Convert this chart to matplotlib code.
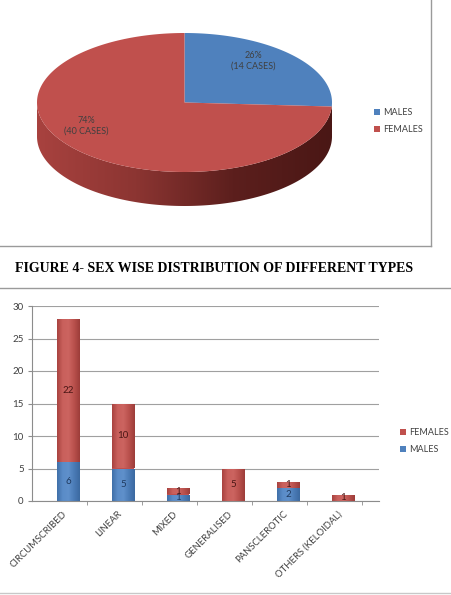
import numpy as np
import matplotlib.pyplot as plt
from matplotlib.patches import Polygon, Patch
from matplotlib.colors import LinearSegmentedColormap

# pie data
pie_labels = ['MALES', 'FEMALES']
pie_cases = [14, 40]

# bar data
types = ['CIRCUMSCRIBED', 'LINEAR', 'MIXED', 'GENERALISED', 'PANSCLEROTIC', 'OTHERS (KELOIDAL)']
males = [6, 5, 1, 0, 2, 0]
females = [22, 10, 1, 5, 1, 1]

blue = '#4F81BD'
red = '#C0504D'
txt = '#404040'
font = 'Lato'

fig = plt.figure(figsize=(4.52, 5.95), dpi=100)
bg = fig.add_axes([0, 0, 1, 1])
bg.set_xlim(0, 452)
bg.set_ylim(595, 0)
bg.axis('off')

# frame lines of the page
bg.plot([431, 431], [0, 246], color='#9a9a9a', lw=1)
bg.plot([0, 431], [246, 246], color='#9a9a9a', lw=1)
bg.plot([0, 452], [288, 288], color='#9a9a9a', lw=1)
bg.plot([0, 452], [593, 593], color='#c8c8c8', lw=1)
bg.text(15, 268, 'FIGURE 4- SEX WISE DISTRIBUTION OF DIFFERENT TYPES',
        fontsize=10.0, fontweight='bold', family='Liberation Serif',
        va='center', ha='left', color='black')

# ---- 3D-looking pie ----
cx, cy, a, b, depth = 184.5, 102.5, 147.5, 69.5, 34
total = sum(pie_cases)
start = 90.0
angles = [start]
for v in pie_cases:
    angles.append(angles[-1] - 360.0 * v / total)

def pt(th):
    r = np.deg2rad(th)
    return cx + a * np.cos(r), cy - b * np.sin(r)

# side wall (front half), gradient dark to the right
th = np.linspace(180, 360, 200)
top_edge = [pt(t) for t in th]
bot_edge = [(x, y + depth) for x, y in top_edge[::-1]]
side = Polygon(top_edge + bot_edge, closed=True, facecolor='none', edgecolor='none')
bg.add_patch(side)
side_cmap = LinearSegmentedColormap.from_list('side', ['#a8423f', '#8c3532', '#5c1f1d', '#4a1715'])
grad = np.linspace(0, 1, 256).reshape(1, -1)
im = bg.imshow(grad, cmap=side_cmap, extent=[cx - a, cx + a, cy + b + depth, cy - b],
               aspect='auto', zorder=1)
im.set_clip_path(side)
bg.set_xlim(0, 452)
bg.set_ylim(595, 0)

cols = [blue, red]
for i in range(len(pie_cases)):
    ts = np.linspace(angles[i], angles[i + 1], 200)
    verts = [(cx, cy)] + [pt(t) for t in ts]
    bg.add_patch(Polygon(verts, closed=True, facecolor=cols[i], edgecolor='none', zorder=2))

lbl_pos = [(253, 61), (86, 126)]
for i, v in enumerate(pie_cases):
    pct = round(100.0 * v / total)
    bg.text(lbl_pos[i][0], lbl_pos[i][1], '%d%%\n(%d CASES)' % (pct, v), ha='center', va='center',
            fontsize=6.5, family=font, color=txt, zorder=3, linespacing=1.2)

pie_handles = [Patch(facecolor=c, edgecolor='none') for c in cols]
bg.legend(pie_handles, pie_labels, loc='center left', bbox_to_anchor=(366 / 452, 1 - 121 / 595),
          frameon=False, prop={'family': font, 'size': 6.5}, handlelength=0.6, handleheight=0.6,
          handletextpad=0.4, labelspacing=0.9, labelcolor=txt)

# ---- stacked bar chart ----
ax = fig.add_axes([32 / 452, (595 - 501) / 595, 347 / 452, 195 / 595])
x = np.arange(len(types))
w = 0.4
bm = ax.bar(x, males, w, color=blue, label='MALES', zorder=2)
bf = ax.bar(x, females, w, bottom=males, color=red, label='FEMALES', zorder=2)

bar_cmaps = {
    blue: LinearSegmentedColormap.from_list('b', ['#3f6fa8', '#5a8cc8', '#5f90cb', '#4a7bb6', '#3b69a0']),
    red: LinearSegmentedColormap.from_list('r', ['#a8423f', '#c9605c', '#cc6460', '#b9504c', '#9c3c39']),
}
for bars, c in [(bm, blue), (bf, red)]:
    for p in bars:
        if p.get_height() == 0:
            continue
        x0, y0 = p.get_x(), p.get_y()
        gi = ax.imshow(grad, cmap=bar_cmaps[c], extent=[x0, x0 + p.get_width(), y0, y0 + p.get_height()],
                       aspect='auto', zorder=2.5)
        gi.set_clip_path(p)

for i in range(len(types)):
    if males[i] > 0:
        ax.text(x[i], males[i] / 2, str(males[i]), ha='center', va='center', fontsize=7,
                family=font, color='#1f3a5f', zorder=4)
    if females[i] > 0:
        ax.text(x[i], males[i] + females[i] / 2, str(females[i]), ha='center', va='center',
                fontsize=7, family=font, color='#4a1614', zorder=4)

ax.set_xlim(-0.655, 5.65)
ax.set_ylim(0, 30)
ax.set_yticks(range(0, 31, 5))
ax.yaxis.grid(True, color='#a0a0a0', lw=0.8, zorder=0)
ax.set_axisbelow(True)
for s in ['top', 'right']:
    ax.spines[s].set_visible(False)
for s in ['left', 'bottom']:
    ax.spines[s].set_color('#8c8c8c')
    ax.spines[s].set_linewidth(0.8)
ax.tick_params(axis='y', length=3, color='#8c8c8c', labelsize=7, labelcolor=txt, pad=3)
for lab in ax.get_yticklabels():
    lab.set_family(font)

ax.set_xticks(x + 0.345, minor=True)
ax.tick_params(axis='x', which='minor', length=3, color='#8c8c8c', direction='out')
ax.set_xticks(x - 0.1)
ax.set_xticklabels(types, rotation=45, ha='right', rotation_mode='anchor', fontsize=6.8,
                   family=font, color=txt)
ax.tick_params(axis='x', which='major', length=0, pad=6)

h, l = ax.get_legend_handles_labels()
ax.legend(h[::-1], l[::-1], loc='center left', bbox_to_anchor=(392 / 452, 1 - 441 / 595),
          bbox_transform=fig.transFigure, frameon=False, prop={'family': font, 'size': 6.5},
          handlelength=0.6, handleheight=0.6, handletextpad=0.4, labelspacing=0.9, labelcolor=txt)

fig.savefig('out.png', dpi=100)
